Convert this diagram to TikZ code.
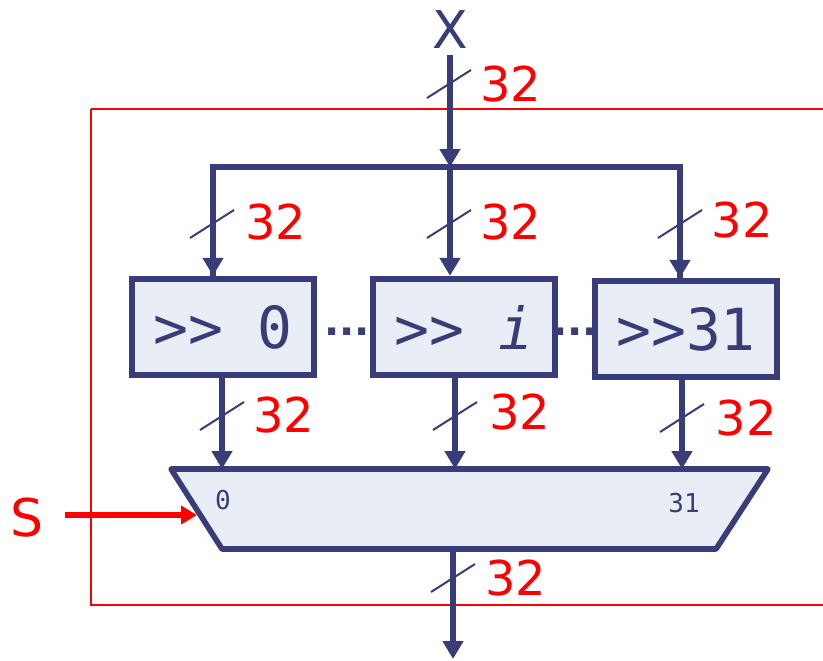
\documentclass[tikz,border=0pt]{standalone}
\usepackage{fontspec}
\setmainfont{DejaVu Sans}
\setmonofont{DejaVu Sans Mono}
\usetikzlibrary{arrows.meta}
\definecolor{wire}{HTML}{383D7A}
\definecolor{boxfill}{HTML}{E9EDF5}

\begin{document}
\begin{tikzpicture}[x=0.5pt,y=-0.5pt,
  bus/.style={draw=wire, line width=2.8pt},
  arr/.style={bus, -{Triangle[length=9pt,width=10pt]}},
  shifter/.style={draw=wire, fill=boxfill, line width=3.2pt, minimum width=91pt, minimum height=48pt, inner sep=0pt, font=\ttfamily\fontsize{29}{29}\selectfont, text=wire},
  width/.style={text=red, font=\fontsize{24}{24}\selectfont},
  tick/.style={draw=wire, line width=1pt}]
\useasboundingbox (0,0) rectangle (823,660);

% outer frame
\draw[red, line width=0.8pt] (91,109) -- (823,109) (91,109) -- (91,605) -- (823,605);

% shifters
\node[shifter] (sh0) at (223,327) {>{}> 0};
\node[shifter] (shi) at (464,327) {>{}> \textit{i}};
\node[shifter] (sh31) at (686,329) {>{}>31};
\node[text=wire, font=\bfseries\fontsize{20}{20}\selectfont] (dots1) at (347,332) {...};
\node[text=wire, font=\bfseries\fontsize{20}{20}\selectfont] (dots2) at (575,332) {...};

% mux
\coordinate (m1) at (171,469);
\coordinate (m2) at (768,469);
\coordinate (m3) at (716,549);
\coordinate (m4) at (222,549);
\draw[bus, fill=boxfill, line join=round] (m1) -- (m2) -- (m3) -- (m4) -- cycle;
\node[text=wire, font=\ttfamily\fontsize{13}{13}\selectfont] (in0) at (223,500) {0};
\node[text=wire, font=\ttfamily\fontsize{13}{13}\selectfont] (in31) at (684,503) {31};

% input x and bus
\node[text=wire, font=\fontsize{26}{26}\selectfont] (x) at (450,30) {X};
\coordinate (xin) at (450,55);
\coordinate (bl) at (213,167);
\coordinate (bm) at (450,167);
\coordinate (br) at (680,167);
\draw[arr] (xin) -- (bm);
\draw[bus, line join=miter] (sh0.north -| bl) -- (bl) -- (br) -- (sh31.north -| br);
\draw[arr] (bl) -- (sh0.north -| bl);
\draw[arr] (bm) -- (shi.north -| bm);
\draw[arr] (br) -- (sh31.north -| br);

% shifter outputs
\coordinate (o0) at (222,469);
\coordinate (oi) at (455,469);
\coordinate (o31) at (682,469);
\draw[arr] (sh0.south -| o0) -- (o0);
\draw[arr] (shi.south -| oi) -- (oi);
\draw[arr] (sh31.south -| o31) -- (o31);

% result
\coordinate (mout) at (453,549);
\coordinate (res) at (453,659);
\draw[arr] (mout) -- (res);

% select
\node[text=red, font=\fontsize{26}{26}\selectfont] (s) at (27,518) {S};
\coordinate (sin) at (65,515);
\coordinate (sel) at (197,515);
\draw[draw=red, line width=2.8pt, -{Triangle[length=8pt,width=9pt]}] (sin) -- (sel);

% bus widths
\foreach \p/\q in {449/84, 212/224, 449/224, 680/224, 222/416, 455/416, 682/418, 453/578}
  \draw[tick] ([shift={(-22,14)}]\p,\q) -- ([shift={(22,-14)}]\p,\q);
\node[width] (w0) at (511,84) {32};
\node[width] (w1) at (276,222) {32};
\node[width] (w2) at (511,222) {32};
\node[width] (w3) at (742,220) {32};
\node[width] (w4) at (284,415) {32};
\node[width] (w5) at (520,412) {32};
\node[width] (w6) at (746,418) {32};
\node[width] (w7) at (516,578) {32};
\end{tikzpicture}
\end{document}
